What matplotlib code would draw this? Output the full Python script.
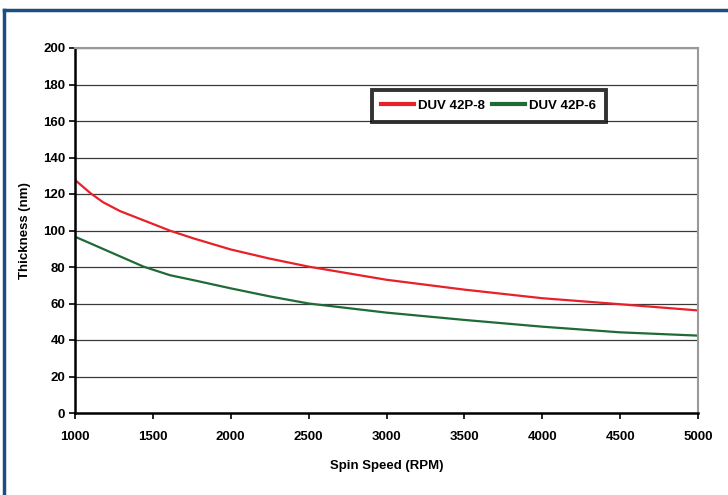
import matplotlib
matplotlib.use("Agg")
import matplotlib.pyplot as plt
from matplotlib.lines import Line2D

rpm = [1000, 1100, 1180, 1290, 1440, 1610, 1760, 2000, 2250, 2500, 3000, 3500, 4000, 4500, 5000]
duv_8 = [127.7, 120.4, 115.5, 110.6, 105.6, 99.9, 95.7, 89.6, 84.6, 80.2, 73.0, 67.6, 62.9, 59.6, 56.2]
duv_6 = [96.6, 92.9, 89.9, 85.8, 80.2, 75.5, 72.8, 68.3, 63.9, 60.0, 55.0, 51.0, 47.3, 44.2, 42.4]
yticks = list(range(0, 201, 20))
xticks = list(range(1000, 5001, 500))

plt.rcParams['font.family'] = ['Liberation Sans', 'DejaVu Sans']
plt.rcParams['font.weight'] = 'bold'

fig = plt.figure(figsize=(7.28, 4.95), dpi=100)
ax = fig.add_axes([75/728, 1-413/495, 623/728, 365/495])

border = '#1a4f7f'
fig.add_artist(Line2D([4/728, 4/728], [0, 1-9.5/495], color=border, lw=2.5, transform=fig.transFigure))
fig.add_artist(Line2D([4/728, 1], [1-9.5/495, 1-9.5/495], color=border, lw=2.5, transform=fig.transFigure))

ax.plot(rpm, duv_8, color='#e8202a', lw=1.6, label='DUV 42P-8')
ax.plot(rpm, duv_6, color='#1e6b36', lw=1.6, label='DUV 42P-6')

ax.set_xlim(1000, 5000)
ax.set_ylim(0, 200)
ax.set_xticks(xticks)
ax.set_yticks(yticks)
for y in yticks[1:]:
    ax.axhline(y, color='#3a3a3a', lw=0.9, zorder=0)

for s in ['top', 'right']:
    ax.spines[s].set_color('#999999')
    ax.spines[s].set_linewidth(1.5)
for s in ['left', 'bottom']:
    ax.spines[s].set_color('black')
    ax.spines[s].set_linewidth(1.8)

ax.tick_params(axis='both', direction='out', length=4, width=1.2, labelsize=9.5, colors='black')
ax.tick_params(axis='x', pad=9)
ax.tick_params(axis='y', pad=3)

ax.set_xlabel('Spin Speed (RPM)', fontsize=9.5, fontweight='bold', labelpad=12)
ax.set_ylabel('Thickness (nm)', fontsize=9.5, fontweight='bold', labelpad=9)

leg = ax.legend(loc='upper left', bbox_to_anchor=((365-75)/623, (413-83)/365), ncol=2,
                frameon=True, fancybox=False, handlelength=2.5,
                columnspacing=0.5, handletextpad=0.3, borderpad=0.75, edgecolor='black',
                prop={'weight': 'bold', 'size': 9.5})
leg.get_frame().set_linewidth(2.8)
for l in leg.get_lines():
    l.set_linewidth(3)

fig.savefig('out.png', dpi=100)
